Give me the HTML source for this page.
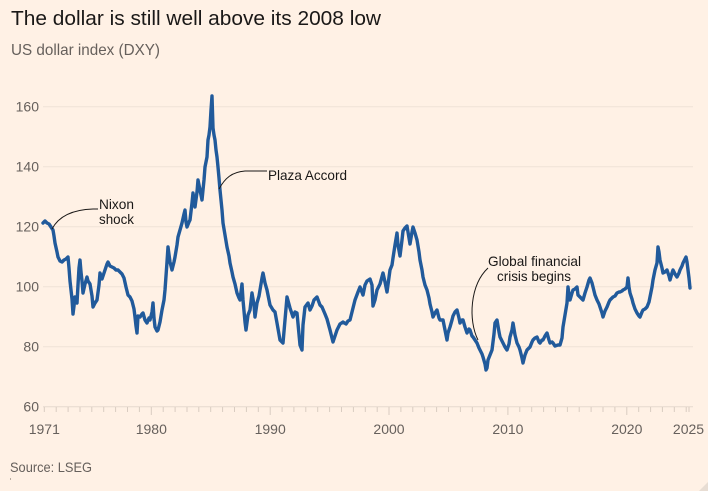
<!DOCTYPE html>
<html>
<head>
<meta charset="utf-8">
<style>
html,body{margin:0;padding:0;background:#fff1e5;}
svg{display:block;}
text{font-family:"Liberation Sans",sans-serif;}
</style>
</head>
<body>
<svg width="708" height="491" viewBox="0 0 708 491" xmlns="http://www.w3.org/2000/svg">
<rect x="0" y="0" width="708" height="491" fill="#fff1e5"/>
<text x="11" y="25" font-size="20" fill="#1a1817" textLength="370" lengthAdjust="spacingAndGlyphs">The dollar is still well above its 2008 low</text>
<text x="11" y="55" font-size="16" fill="#66605c" textLength="149" lengthAdjust="spacingAndGlyphs">US dollar index (DXY)</text>

<g stroke="#efe2d7" stroke-width="1">
<line x1="43" y1="106.7" x2="693" y2="106.7"/>
<line x1="43" y1="166.7" x2="693" y2="166.7"/>
<line x1="43" y1="226.7" x2="693" y2="226.7"/>
<line x1="43" y1="286.7" x2="693" y2="286.7"/>
<line x1="43" y1="346.7" x2="693" y2="346.7"/>
</g>
<line x1="43" y1="406.7" x2="693" y2="406.7" stroke="#e6d9ce" stroke-width="1"/>
<g fill="#66605c" font-size="14" text-anchor="end">
<text x="39" y="111.5">160</text>
<text x="39" y="171.5">140</text>
<text x="39" y="231.5">120</text>
<text x="39" y="291.5">100</text>
<text x="39" y="351.5">80</text>
<text x="39" y="411.5">60</text>
</g>
<g stroke="#d9ccc1" stroke-width="1">
<path d="M44.3,407v5M56.2,407v5M68.1,407v5M80,407v5M91.8,407v5M103.7,407v5M115.6,407v5M127.5,407v5M139.4,407v5M151.3,407v8M163.2,407v5M175.1,407v5M187,407v5M198.8,407v5M210.7,407v5M222.6,407v5M234.5,407v5M246.4,407v5M258.3,407v5M270.2,407v8M282.1,407v5M293.9,407v5M305.8,407v5M317.7,407v5M329.6,407v5M341.5,407v5M353.4,407v5M365.3,407v5M377.2,407v5M389,407v8M400.9,407v5M412.8,407v5M424.7,407v5M436.6,407v5M448.5,407v5M460.4,407v5M472.3,407v5M484.1,407v5M496,407v5M507.9,407v8M519.8,407v5M531.7,407v5M543.6,407v5M555.5,407v5M567.4,407v5M579.2,407v5M591.1,407v5M603,407v5M614.9,407v5M626.8,407v8M638.7,407v5M650.6,407v5M662.4,407v5M674.3,407v5M686.2,407v5M689,407v5"/>
</g>
<g fill="#66605c" font-size="14" text-anchor="middle">
<text x="44.3" y="434">1971</text>
<text x="151.3" y="434">1980</text>
<text x="270.2" y="434">1990</text>
<text x="389" y="434">2000</text>
<text x="507.9" y="434">2010</text>
<text x="626.8" y="434">2020</text>
<text x="688.5" y="434">2025</text>
</g>

<polyline fill="none" stroke="#215a9b" stroke-width="3.4" stroke-linejoin="round" stroke-linecap="round" points="43,223 45,221 47,223 49,224 51,227 53,230 54,236 55,243 57,252 58,257 60,261 62,262 64,260 66,259 68,257 69,268 70,281 71,290 72,299 73,314 74,306 75,297 76,302 77,303 78,285 79,268 80,260 81,272 82,281 83,293 85,284 87,277 88,281 90,284 92,296 93,307 95,303 97,300 99,285 100,273 102,279 103,276 105,270 107,264 108,262 110,266 112,267 114,268 116,270 118,270 120,272 122,274 124,278 126,287 128,295 130,297 132,301 134,309 135,317 136,326 137,333 138,316 140,317 142,314 143,313 145,320 147,323 149,318 150,320 152,312 153,303 154,318 155,327 157,331 158,330 160,322 162,310 164,300 165,290 167,262 168,247 170,262 172,270 174,262 175,257 177,245 178,237 180,230 182,223 184,214 185,210 186,222 187,227 189,222 190,220 192,203 193,193 194,202 195,207 197,192 198,180 200,190 202,200 204,180 205,167 207,157 208,140 209,135 210,127 211,110 212,96 213,128 214,135 215,140 216,150 217,157 218,167 219,178 220,190 222,210 223,223 225,235 227,247 229,256 230,263 232,272 233,277 235,284 237,293 239,298 240,300 242,284 243,300 245,322 246,330 248,315 250,310 252,293 254,305 255,317 257,303 259,296 260,290 262,278 263,273 265,283 267,290 270,305 273,310 275,312 277,323 280,340 283,343 285,320 287,297 290,308 293,317 295,312 297,313 300,345 302,350 303,325 305,307 308,303 310,310 312,306 314,300 317,297 320,305 322,307 325,314 327,319 330,330 333,342 335,336 337,330 340,324 343,322 346,324 348,321 350,320 353,308 355,300 358,292 360,287 363,295 365,285 367,281 370,279 372,285 373,306 375,300 377,290 380,284 383,273 385,282 387,292 390,270 392,265 393,258 395,245 397,233 398,245 400,256 402,240 403,231 405,228 407,226 409,238 410,244 412,232 413,227 415,233 417,240 419,252 420,260 422,270 423,277 425,285 427,290 429,298 430,304 432,312 433,317 435,313 437,310 439,318 440,320 443,320 445,330 447,340 448,333 450,327 452,320 453,316 455,312 457,310 459,318 460,323 462,320 463,320 465,327 467,333 469,329 470,330 472,336 473,337 475,340 477,343 479,348 480,350 482,354 483,357 485,364 486,370 487,368 488,360 490,355 492,350 494,334 495,323 497,320 499,332 500,337 502,341 503,343 505,347 507,350 509,344 510,337 512,330 513,323 515,335 517,343 519,347 520,350 522,358 523,363 525,355 527,350 529,348 530,347 532,342 533,340 535,338 537,337 539,342 540,343 542,340 543,340 545,336 547,333 549,340 550,343 552,342 553,343 555,346 558,345 560,345 562,338 563,327 565,315 567,303 568,287 569,295 570,300 572,293 573,290 575,289 577,287 578,295 580,297 582,299 583,300 585,293 587,287 589,280 590,278 592,283 593,287 595,295 597,300 599,304 600,307 602,313 603,317 605,311 607,307 609,302 610,300 612,298 613,297 615,296 617,293 619,292 620,292 622,291 623,290 625,289 627,287 628,278 629,287 630,293 632,299 633,303 635,309 637,313 639,316 640,317 642,312 643,310 645,309 647,307 649,302 650,297 652,287 653,280 655,270 657,263 658,247 659,252 660,260 662,268 663,273 665,272 667,270 669,276 670,280 672,273 673,270 675,274 677,277 679,273 680,270 682,266 683,263 685,259 686,257 687,262 688,270 689,278 690,288"/>

<g fill="none" stroke="#1a1817" stroke-width="1">
<path d="M52,229 Q62,210 93,209 L98,209"/>
<path d="M219,189 C225,178 232,172 245,171 L267,171"/>
<path d="M488,268 C470,285 468,320 478,340"/>
</g>
<g fill="#1a1817" font-size="14">
<text x="99" y="209" textLength="35" lengthAdjust="spacingAndGlyphs">Nixon</text>
<text x="99" y="224" textLength="35" lengthAdjust="spacingAndGlyphs">shock</text>
<text x="268" y="180" textLength="79" lengthAdjust="spacingAndGlyphs">Plaza Accord</text>
<text x="488" y="266" textLength="93" lengthAdjust="spacingAndGlyphs">Global financial</text>
<text x="497" y="281" textLength="74" lengthAdjust="spacingAndGlyphs">crisis begins</text>
</g>

<text x="10" y="472" font-size="14" fill="#66605c" textLength="82" lengthAdjust="spacingAndGlyphs">Source: LSEG</text>
<rect x="10" y="478" width="1" height="2" fill="#b8aca2"/>
<path d="M708,482 L708,491 L699,491 Z" fill="#e8ddd3"/>
</svg>
</body>
</html>
